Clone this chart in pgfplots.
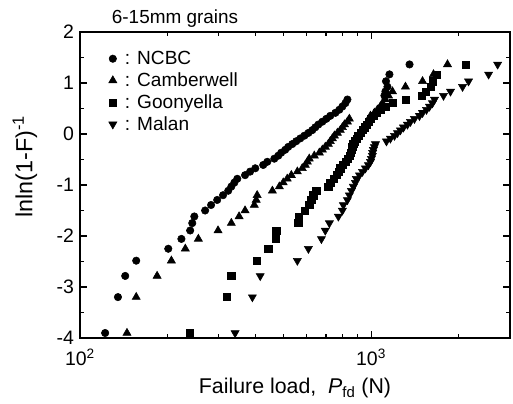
\documentclass[border=0pt]{standalone}
\usepackage{fontspec}
\setmainfont{Liberation Sans}
\usepackage{pgfplots}
\usepackage{pgfplotstable}
\pgfplotsset{compat=1.18}
\usetikzlibrary{calc}

\pgfplotstableread{
x y
122 -3.902
135 -3.198
143 -2.783
156 -2.484
201 -2.250
223 -2.057
239 -1.892
243 -1.747
247 -1.617
269 -1.500
282 -1.392
296 -1.293
310 -1.200
323 -1.113
331 -1.031
339 -0.953
347 -0.878
369 -0.807
384 -0.738
400 -0.672
426 -0.607
440 -0.545
465 -0.484
480 -0.425
491 -0.367
507 -0.309
519 -0.253
536 -0.197
553 -0.142
571 -0.087
590 -0.033
609 0.021
628 0.076
643 0.131
659 0.186
680 0.241
702 0.298
724 0.356
754 0.415
778 0.476
797 0.539
816 0.606
829 0.676
1111 0.752
1120 0.834
1138 0.926
1125 1.034
1156 1.169
1355 1.364
}\ncbc

\pgfplotstableread{
x y
145 -3.902
156 -3.198
184 -2.783
206 -2.484
230 -2.250
255 -2.057
298 -1.892
331 -1.747
352 -1.617
369 -1.500
397 -1.392
403 -1.293
406 -1.200
458 -1.113
484 -1.031
499 -0.953
515 -0.878
532 -0.807
558 -0.738
580 -0.672
594 -0.607
604 -0.545
613 -0.484
638 -0.425
664 -0.367
680 -0.309
696 -0.253
713 -0.197
724 -0.142
736 -0.087
748 -0.033
766 0.021
784 0.076
797 0.131
810 0.186
829 0.241
842 0.298
995 0.356
1026 0.415
1051 0.476
1076 0.539
1094 0.606
1120 0.676
1147 0.752
1184 0.834
1312 0.926
1502 1.034
1638 1.169
1830 1.364
}\camberwell

\pgfplotstableread{
x y
239 -3.902
320 -3.198
331 -2.783
406 -2.484
443 -2.250
469 -2.057
472 -1.892
562 -1.747
565 -1.617
590 -1.500
613 -1.392
623 -1.293
633 -1.200
648 -1.113
713 -1.031
724 -0.953
742 -0.878
760 -0.807
772 -0.738
784 -0.672
797 -0.607
816 -0.545
829 -0.484
842 -0.425
849 -0.367
856 -0.309
862 -0.253
869 -0.197
876 -0.142
890 -0.087
904 -0.033
919 0.021
934 0.076
948 0.131
964 0.186
979 0.241
995 0.298
1018 0.356
1043 0.415
1076 0.476
1120 0.539
1184 0.606
1312 0.676
1489 0.752
1538 0.834
1600 0.926
1625 1.034
1677 1.169
2110 1.364
}\goonyella

\pgfplotstableread{
x y
341 -3.902
391 -3.198
416 -2.783
558 -2.484
609 -2.250
675 -2.057
696 -1.892
719 -1.747
772 -1.617
797 -1.500
803 -1.392
829 -1.293
842 -1.200
856 -1.113
869 -1.031
883 -0.953
890 -0.878
912 -0.807
934 -0.738
956 -0.672
979 -0.607
995 -0.545
1002 -0.484
1010 -0.425
1012 -0.367
1018 -0.309
1026 -0.253
1035 -0.197
1129 -0.142
1165 -0.087
1203 -0.033
1232 0.021
1261 0.076
1292 0.131
1333 0.186
1365 0.241
1409 0.298
1466 0.356
1502 0.415
1550 0.476
1587 0.539
1625 0.606
1651 0.676
1773 0.752
1874 0.834
2061 0.926
2161 1.034
2533 1.169
2720 1.364
}\malan

\begin{document}
\begin{tikzpicture}
\begin{axis}[
  name=ax,
  scale only axis,
  width=322.5pt, height=229.5pt,
  xmode=log,
  xmin=100, xmax=3000,
  ymin=-4, ymax=2,
  xtick={100,1000},
  xticklabels={10\textsuperscript{2},10\textsuperscript{3}},
  minor xtick={200,300,400,500,600,700,800,900,2000,3000},
  ytick={-4,-3,-2,-1,0,1,2},
  yticklabels={-4,-3,-2,-1,0,1,2},
  minor ytick={-3.5,-2.5,-1.5,-0.5,0.5,1.5},
  tick align=inside,
  major tick length=5pt,
  minor tick length=3pt,
  axis line style={line width=1pt},
  every tick/.style={black, line width=0.8pt},
  tick label style={font=\fontsize{14.6}{16}\selectfont},
  xticklabel style={yshift=-4.5pt},
  yticklabel style={xshift=-1pt},
  xlabel={Failure load,\ \ \textit{P}\textsubscript{fd} (N)},
  ylabel={lnln(1-F)\textsuperscript{-1}},
  xlabel style={font=\fontsize{16}{18}\selectfont, at={(axis description cs:0.5,-0.182)}, anchor=base},
  ylabel style={font=\fontsize{17.5}{19}\selectfont, at={(axis description cs:-0.128,0.56)}, anchor=center, rotate=0},
  legend style={draw=none, fill=none, at={(axis description cs:0.057,0.956)}, anchor=north west,
    font=\fontsize{14.3}{16}\selectfont, row sep=0.6pt,
    legend cell align=left},
  /tikz/every odd column/.append style={column sep=4pt},
  clip=false,
]
\addplot[only marks, mark=*, mark size=2.8pt, black] table {\ncbc};
\addlegendentry{: NCBC}
\addplot[only marks, mark=triangle*, mark size=3.5pt, black] table {\camberwell};
\addlegendentry{: Camberwell}
\addplot[only marks, mark=square*, mark size=2.7pt, black] table {\goonyella};
\addlegendentry{: Goonyella}
\addplot[only marks, mark=triangle*, mark options={rotate=180}, mark size=3.5pt, black] table {\malan};
\addlegendentry{: Malan}
\node[font=\fontsize{14.2}{16}\selectfont, anchor=base] at (axis description cs:0.221,1.029) {6-15mm grains};
\end{axis}
\pgfresetboundingbox
\path ($(ax.south west)+(-60pt,-48.75pt)$) rectangle ($(ax.north east)+(2.25pt,24pt)$);
\end{tikzpicture}
\end{document}
